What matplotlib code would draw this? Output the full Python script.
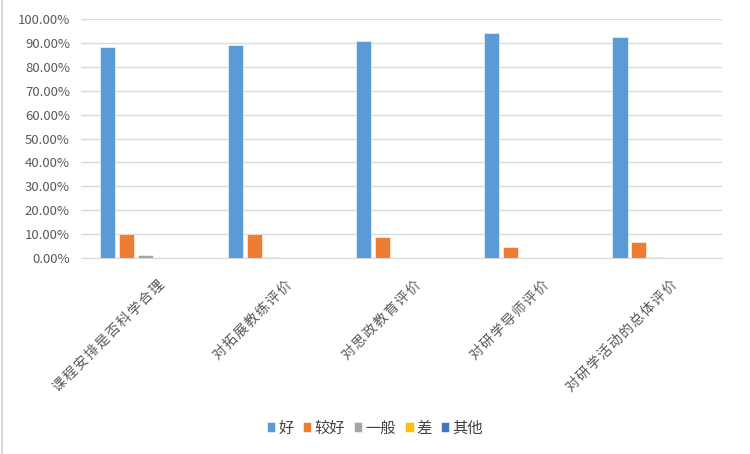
import matplotlib.pyplot as plt
import numpy as np
from matplotlib.lines import Line2D
from matplotlib.ticker import FuncFormatter
from matplotlib.transforms import ScaledTranslation

plt.rcParams['font.family'] = ['Noto Sans CJK SC', 'DejaVu Sans']

# categories and series (percent)
categories = ['课程安排是否科学合理', '对拓展教练评价', '对思政教育评价',
              '对研学导师评价', '对研学活动的总体评价']
series_names = ['好', '较好', '一般', '差', '其他']
good = [88.3, 89.1, 90.9, 94.3, 92.6]
fairly_good = [10.2, 10.1, 8.8, 4.7, 6.7]
average = [1.2, 0.6, 0.2, 0.1, 0.6]
poor = [0, 0, 0, 0, 0]
other = [0, 0, 0, 0, 0]
colors = ['#5B9BD5', '#ED7D31', '#A5A5A5', '#FFC000', '#4472C4']

fig = plt.figure(figsize=(7.5, 4.54), dpi=100)
ax = fig.add_axes([81 / 750, 1 - 258 / 454, 641 / 750, 239 / 454])

x = np.arange(len(categories))
step = 0.148
width = 0.118
for i, (vals, name) in enumerate(zip([good, fairly_good, average, poor, other], series_names)):
    ax.bar(x + (i - 2) * step, vals, width, color=colors[i], label=name,
           edgecolor='white', linewidth=0.4, zorder=3)

ax.set_xlim(-0.5, len(categories) - 0.5)
ax.set_ylim(0, 100)
ax.set_yticks(np.arange(0, 101, 10))
ax.yaxis.set_major_formatter(FuncFormatter(lambda v, p: f'{v:.2f}%'))
ax.grid(axis='y', color='#D9D9D9', linewidth=1, zorder=0)
for s in ['top', 'right', 'left']:
    ax.spines[s].set_visible(False)
ax.spines['bottom'].set_color('#D9D9D9')
ax.tick_params(axis='both', length=0, colors='#595959', labelsize=9.5)
ax.tick_params(axis='y', pad=8)

# spaced-out labels, as in the original
spaced = ['\u200a'.join(c) for c in categories]
ax.set_xticks(x)
ax.set_xticklabels(spaced, rotation=45, ha='right', va='top',
                   rotation_mode='anchor', fontsize=10, color='#595959')
ax.tick_params(axis='x', pad=14)
shift = ScaledTranslation(12 / 100, 0, fig.dpi_scale_trans)
for lab in ax.get_xticklabels():
    lab.set_transform(lab.get_transform() + shift)

fig.legend(loc='center', bbox_to_anchor=(375 / 750, 1 - 428 / 454), ncol=5,
           frameon=False, fontsize=11, handlelength=0.55, handleheight=0.55,
           handletextpad=0.2, columnspacing=0.6, labelcolor='#404040')

# chart frame edge
fig.add_artist(Line2D([0.002, 0.002], [0, 1], color='#D9D9D9', linewidth=1.5,
                      transform=fig.transFigure))

fig.savefig('out.png', dpi=100)
